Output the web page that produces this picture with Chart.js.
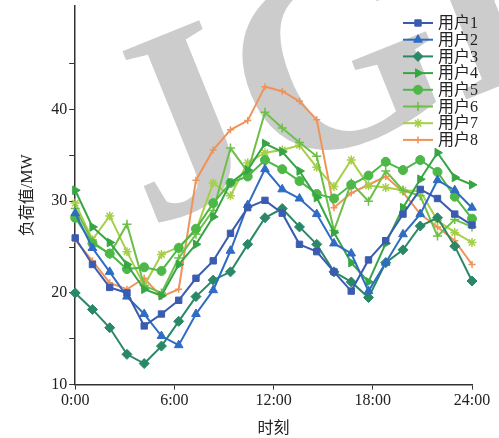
<!DOCTYPE html>
<html>
<head>
<meta charset="utf-8">
<script src="https://cdn.jsdelivr.net/npm/chart.js@4.4.0/dist/chart.umd.min.js"></script>
<style>
  html, body { margin: 0; padding: 0; background: #fff; }
</style>
</head>
<body>
<canvas id="loadChart" width="499" height="438"></canvas>
<script>
// === Data (MW, 24 samples from 0:00 to 24:00) ===
const user1 = [26.0, 23.1, 20.6, 20.0, 16.4, 17.7, 19.2, 21.6, 23.5, 26.5, 29.3, 30.1, 28.7, 25.3, 24.5, 22.3, 20.2, 23.6, 25.7, 28.6, 31.3, 30.3, 28.6, 27.4];
const user2 = [28.7, 24.9, 22.3, 19.6, 17.7, 15.3, 14.3, 17.7, 20.3, 24.6, 29.6, 33.5, 31.3, 30.3, 28.6, 25.4, 24.3, 20.2, 23.3, 26.4, 28.6, 32.3, 31.2, 29.3];
const user3 = [20.0, 18.2, 16.2, 13.3, 12.3, 14.2, 16.9, 19.6, 21.4, 22.3, 25.3, 28.2, 29.2, 27.2, 25.3, 22.3, 21.2, 19.5, 23.3, 24.7, 27.3, 28.2, 25.1, 21.3];
const user4 = [31.2, 27.2, 25.5, 23.1, 20.4, 19.7, 23.1, 25.3, 28.3, 32.0, 33.4, 36.3, 35.4, 33.3, 30.4, 26.6, 23.3, 21.2, 25.4, 29.3, 32.4, 35.3, 32.6, 31.8];
const user5 = [28.2, 25.4, 24.3, 22.6, 22.8, 22.4, 24.9, 27.0, 29.8, 32.0, 32.7, 34.5, 33.5, 32.2, 30.8, 30.3, 31.8, 32.8, 34.3, 33.4, 34.5, 33.2, 30.5, 28.1];
const user6 = [29.2, 25.6, 24.2, 27.5, 20.8, 20.0, 23.8, 26.4, 29.0, 35.8, 33.2, 39.7, 38.0, 36.4, 34.9, 26.8, 32.0, 30.0, 33.3, 31.2, 30.6, 26.2, 28.0, 27.2];
const user7 = [29.8, 25.8, 28.4, 24.5, 20.8, 24.2, 25.0, 26.8, 32.0, 30.6, 34.2, 35.3, 35.6, 36.1, 33.7, 31.6, 34.5, 31.7, 31.5, 31.2, 31.1, 27.9, 26.6, 25.5];
const user8 = [25.8, 23.5, 21.1, 20.4, 21.6, 19.6, 20.4, 32.3, 35.6, 37.8, 38.8, 42.5, 42.0, 40.9, 38.9, 29.3, 30.9, 31.8, 32.7, 31.0, 28.6, 27.2, 25.7, 23.1];

const seriesNames = ["用户1", "用户2", "用户3", "用户4", "用户5", "用户6", "用户7", "用户8"];
const yTickLabels = [10, 20, 30, 40];
const xTickLabels = ["0:00", "6:00", "12:00", "18:00", "24:00"];

// sample times spread evenly over the day
const hours = user1.map((_, i) => i * 24 / 23);

const serif = '"Liberation Serif", "Noto Sans CJK SC", serif';

const styles = [
  { color: "#3a5cb0", point: "rect", radius: 4.5 },
  { color: "#2f6cc4", point: "triangle", radius: 5 },
  { color: "#2a8866", point: "rectRot", radius: 5 },
  { color: "#36a645", point: "triangle", radius: 5, rotation: 90 },
  { color: "#4db848", point: "circle", radius: 4.5 },
  { color: "#6cbf48", point: "cross", radius: 4.5 },
  { color: "#a6cf48", point: "star", radius: 4.5 },
  { color: "#f0935a", point: "cross", radius: 3.5 }
];

const allSeries = [user1, user2, user3, user4, user5, user6, user7, user8];

const datasets = allSeries.map((vals, i) => ({
  label: seriesNames[i],
  data: vals.map((v, j) => ({ x: hours[j], y: v })),
  borderColor: styles[i].color,
  backgroundColor: styles[i].color,
  pointBackgroundColor: styles[i].color,
  pointBorderColor: styles[i].color,
  pointStyle: styles[i].point,
  pointRadius: styles[i].radius,
  pointRotation: styles[i].rotation || 0,
  pointBorderWidth: (styles[i].point === "cross" || styles[i].point === "star") ? 1.5 : 1,
  borderWidth: 2,
  tension: 0,
  clip: false
}));

// watermark behind the plot
const watermark = {
  id: "watermark",
  beforeDatasetsDraw(chart) {
    const ctx = chart.ctx;
    ctx.save();
    ctx.fillStyle = "#cccccc";
    ctx.font = "bold 265px " + serif;
    ctx.translate(148, 228);
    ctx.rotate(-22 * Math.PI / 180);
    ctx.fillText("JGE", 0, 0);
    ctx.restore();
  }
};

// legend in the upper right corner of the plot
const legendBox = {
  id: "legendBox",
  afterDraw(chart) {
    const ctx = chart.ctx;
    const area = chart.chartArea;
    const x0 = area.right - 69;
    ctx.save();
    chart.data.datasets.forEach((ds, i) => {
      const y = 23 + i * 16.7;
      ctx.strokeStyle = ds.borderColor;
      ctx.fillStyle = ds.pointBackgroundColor;
      ctx.lineWidth = 2;
      ctx.beginPath();
      ctx.moveTo(x0, y);
      ctx.lineTo(x0 + 30, y);
      ctx.stroke();
      ctx.lineWidth = ds.pointBorderWidth;
      Chart.helpers.drawPoint(ctx, {
        pointStyle: ds.pointStyle,
        radius: ds.pointRadius,
        rotation: ds.pointRotation,
        borderWidth: ds.pointBorderWidth
      }, x0 + 15, y);
      ctx.fillStyle = "#222";
      ctx.font = "16px " + serif;
      ctx.textBaseline = "middle";
      ctx.fillText(ds.label, x0 + 35, y + 1);
    });
    ctx.restore();
  }
};

new Chart(document.getElementById("loadChart"), {
  type: "line",
  data: { datasets },
  options: {
    responsive: false,
    animation: false,
    devicePixelRatio: 1,
    layout: { padding: { left: 18, right: 27, top: 0, bottom: 0 } },
    plugins: { legend: { display: false }, tooltip: { enabled: false } },
    scales: {
      x: {
        type: "linear",
        min: 0, max: 24,
        ticks: {
          stepSize: 6,
          color: "#222",
          font: { family: serif, size: 16 },
          padding: 2,
          maxRotation: 0,
          callback: (v) => xTickLabels[v / 6]
        },
        grid: { drawOnChartArea: false, tickLength: 5, color: "#333" },
        border: { color: "#333", width: 1.5 },
        title: { display: true, text: "时刻", color: "#222", font: { family: serif, size: 16 }, padding: { top: 6, bottom: 0 } }
      },
      y: {
        min: 10, max: 51.3,
        afterBuildTicks: (scale) => { scale.ticks = scale.ticks.filter(t => t.value <= 45); },
        afterFit: (scale) => { scale.paddingTop = 0; },
        ticks: {
          stepSize: 5,
          color: "#222",
          font: { family: serif, size: 16 },
          padding: 2,
          callback: (v) => yTickLabels.includes(v) ? String(v) : ""
        },
        grid: { drawOnChartArea: false, tickLength: 6, color: "#333" },
        border: { color: "#333", width: 1.5 },
        title: { display: true, text: "负荷值/MW", color: "#222", font: { family: serif, size: 16 }, padding: { top: 0, bottom: 12 } }
      }
    }
  },
  plugins: [watermark, legendBox]
});
</script>
</body>
</html>
